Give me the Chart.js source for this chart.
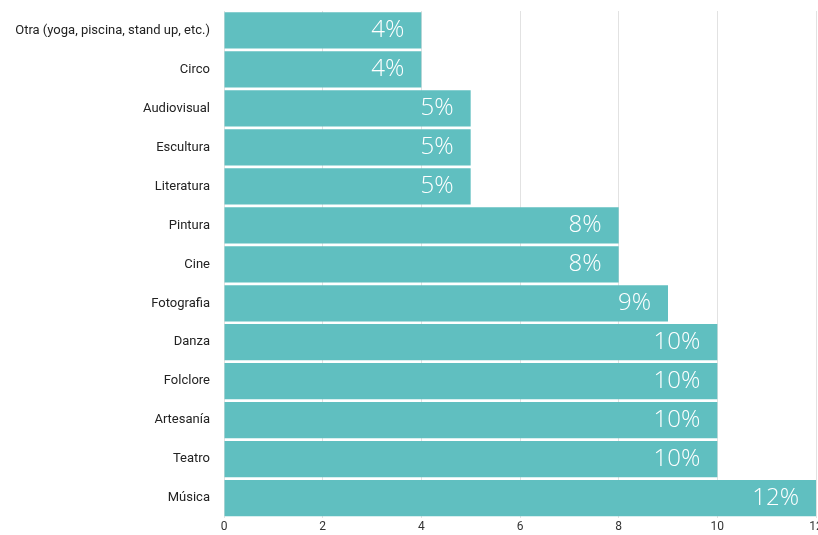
<!DOCTYPE html>
<html>
<head>
<meta charset="utf-8">
<script src="https://cdn.jsdelivr.net/npm/chart.js@4/dist/chart.umd.min.js"></script>
<style>
	html, body { margin: 0; padding: 0; background: #fff; }
	#wrap { width: 818px; height: 535px; }
</style>
</head>
<body>
<div id="wrap"><canvas id="chartArt"></canvas></div>
<script>
var categories = ['Otra (yoga, piscina, stand up, etc.)', 'Circo', 'Audiovisual', 'Escultura', 'Literatura', 'Pintura', 'Cine', 'Fotografia', 'Danza', 'Folclore', 'Artesanía', 'Teatro', 'Música'];
var values = [4, 4, 5, 5, 5, 8, 8, 9, 10, 10, 10, 10, 12];

// etiquetas blancas dentro de cada barra
var valueLabels = {
	id: 'valueLabels',
	afterDatasetsDraw: function(chart) {
		var ctx = chart.ctx;
		var meta = chart.getDatasetMeta(0);
		ctx.save();
		ctx.fillStyle = '#ffffff';
		ctx.font = '300 24px "Open Sans"';
		ctx.textAlign = 'right';
		ctx.textBaseline = 'middle';
		meta.data.forEach(function(bar, i) {
			ctx.fillText(values[i] + '%', bar.x - 17, bar.y);
		});
		ctx.restore();
	}
};

var ca = document.getElementById('chartArt');
var chartArt = new Chart(ca, {
	type: 'bar',
	data: {
		labels: categories,
		datasets: [{
			data: values,
			backgroundColor: '#60bfc0',
			borderWidth: 0,
			barPercentage: 0.93,
			categoryPercentage: 1
		}]
	},
	options: {
		indexAxis: 'y',
		responsive: true,
		maintainAspectRatio: false,
		animation: false,
		layout: { padding: { top: 11, right: 2, left: 4, bottom: -1 } },
		plugins: {
			legend: { display: false },
			tooltip: { enabled: false }
		},
		scales: {
			x: {
				min: 0,
				max: 12,
				ticks: { stepSize: 2, color: '#333', font: { family: 'Roboto', size: 12 }, padding: 2 },
				grid: { color: '#e2e2e2', drawTicks: false },
				border: { display: false },
				afterFit: function(scale) { scale.paddingRight = 0; }
			},
			y: {
				ticks: { color: '#222', font: { family: 'Roboto', size: 13 }, padding: 6 },
				grid: { display: false },
				border: { display: false },
				afterFit: function(scale) {
					scale.width = 220;
					scale.paddingTop = 0;
					scale.paddingBottom = 0;
				}
			}
		}
	},
	plugins: [valueLabels]
});
</script>
</body>
</html>
